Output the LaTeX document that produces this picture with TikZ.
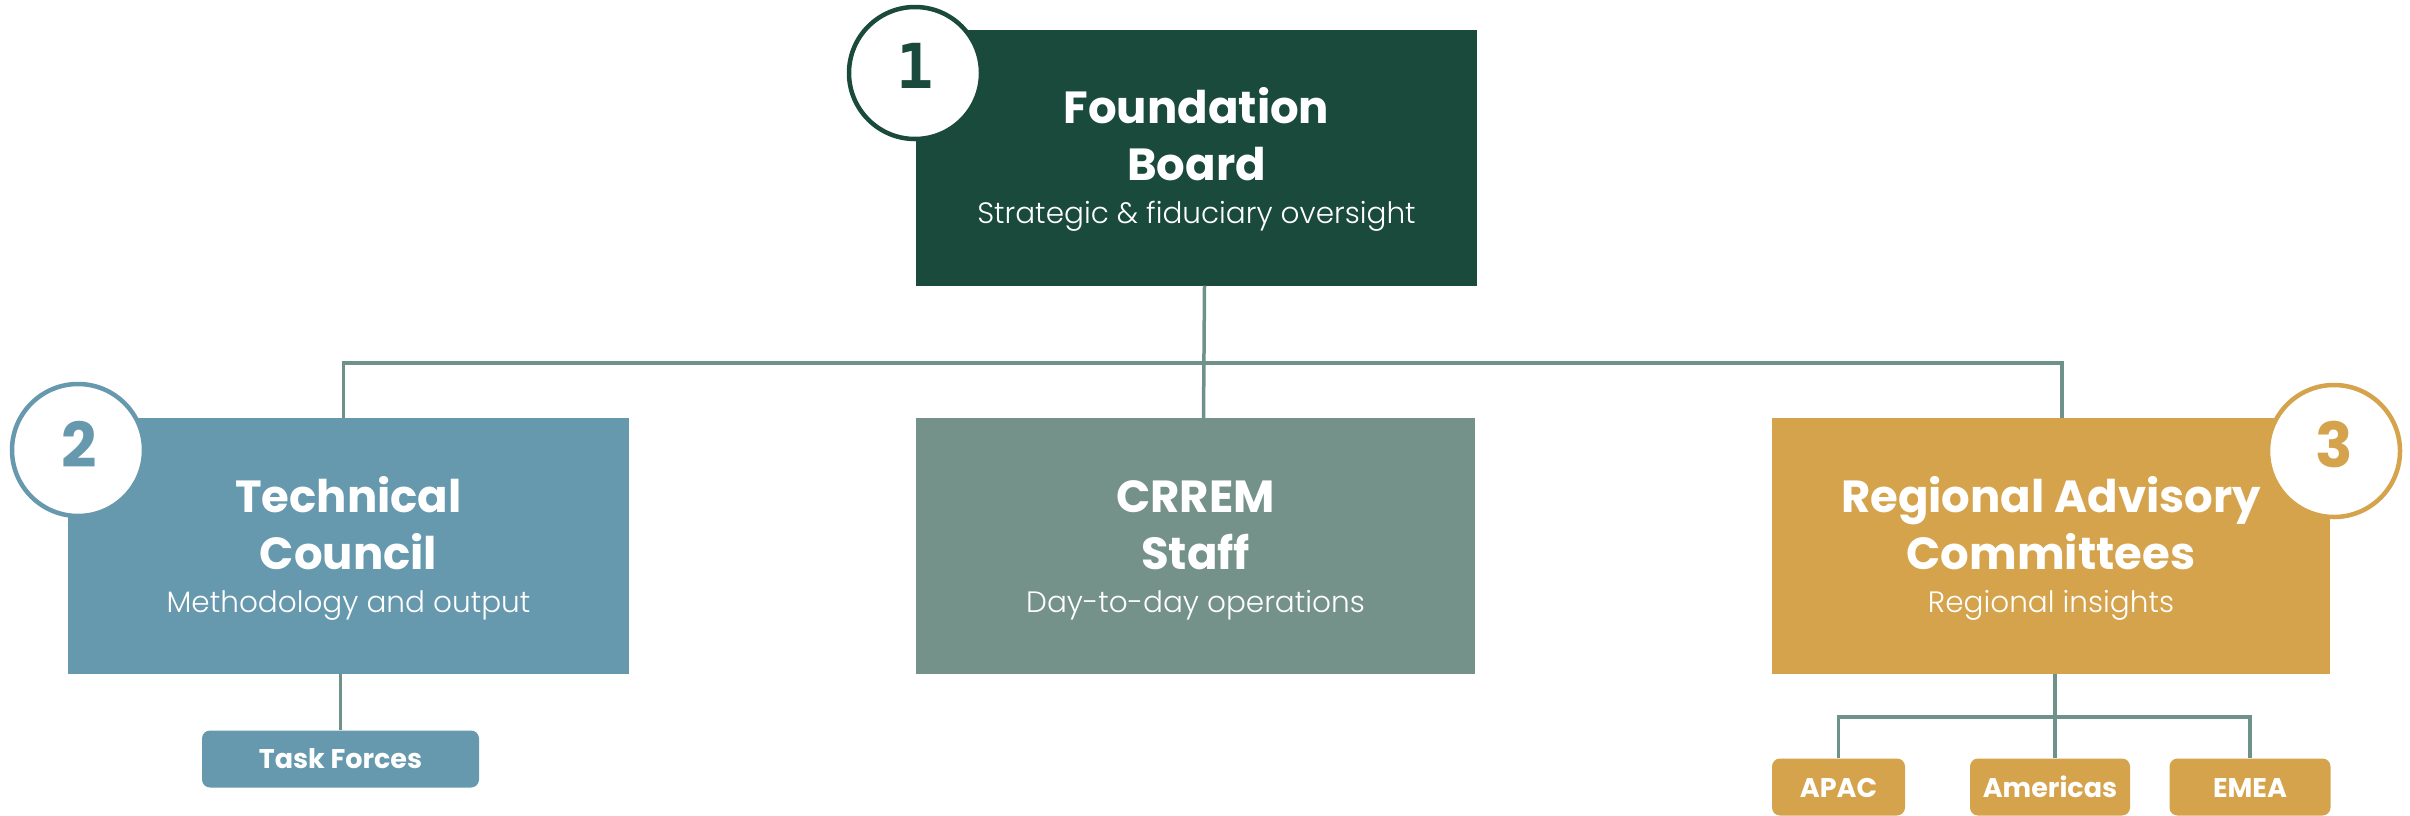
\documentclass[tikz,border=0pt]{standalone}
\usepackage{fontspec}
\setmainfont{Poppins}
\IfFontExistsTF{Poppins Light}{\newfontfamily\lightfnt{Poppins Light}}{\newfontfamily\lightfnt{Poppins}}
\newfontfamily\monofnt{DejaVu Sans Mono}
\definecolor{fbgreen}{HTML}{194A3C}
\definecolor{tcblue}{HTML}{6699AD}
\definecolor{csgreen}{HTML}{74918A}
\definecolor{racgold}{HTML}{D5A34B}
\definecolor{connc}{HTML}{6E918A}
\begin{document}
\begin{tikzpicture}[x=1pt,y=-1pt,
  bigbox/.style={rectangle, inner sep=0pt, minimum width=#1, minimum height=256},
  smallbox/.style={rectangle, rounded corners=8pt, inner sep=0pt, minimum height=57, text=white, font=\bfseries\fontsize{27}{28}\selectfont},
  ttl/.style={anchor=base, text=white, font=\bfseries\fontsize{45}{48}\selectfont, inner sep=0pt},
  sub/.style={anchor=base, text=white, font=\lightfnt\fontsize{29.5}{31}\selectfont, inner sep=0pt},
  numc/.style={circle, fill=white, line width=4.5pt, minimum size=132, inner sep=0pt},
  numt/.style={anchor=base, inner sep=0pt, font=\bfseries\fontsize{62}{64}\selectfont},
  conn/.style={draw=connc, line width=3.5pt}]
\useasboundingbox (0,0) rectangle (2410,815);
% boxes
\node[bigbox=561, fill=fbgreen] (fb) at (1196.5,157.5) {};
\node[bigbox=561, fill=tcblue] (tc) at (348.5,546) {};
\node[bigbox=559, fill=csgreen] (cs) at (1195.5,546) {};
\node[bigbox=558, fill=racgold] (rac) at (2051,546) {};
\node[smallbox, minimum width=277, fill=tcblue] (tf) at (340.5,759) {};
\node[smallbox, minimum width=133, fill=racgold] (apac) at (1838.5,787) {};
\node[smallbox, minimum width=160, fill=racgold] (amer) at (2050,787) {};
\node[smallbox, minimum width=161, fill=racgold] (emea) at (2250,787) {};
\node[smallbox, anchor=base] (tft) at (340.5,768) {Task Forces};
\node[smallbox, anchor=base] (apact) at (1838.5,797) {APAC};
\node[smallbox, anchor=base] (amert) at (2050,797) {Americas};
\node[smallbox, anchor=base] (emeat) at (2250,797) {EMEA};
% connectors
\coordinate (bus) at (1205,363);
\coordinate (sub) at (2055,717);
\draw[conn] ([xshift=8]fb.south) -- ([xshift=8]cs.north);
\draw[conn] ([xshift=-5]tc.north) |- (bus) -| ([xshift=11]rac.north);
\draw[conn] (tf.north) -- (tf.north |- tc.south);
\draw[conn] (sub |- rac.south) -- (sub);
\draw[conn] (apac.north) |- (sub) -| (emea.north);
\draw[conn] (amer.north -| sub) -- (sub);
% texts
\node[ttl] (fbt1) at (1196.5,123) {Foundation};
\node[ttl] (fbt2) at (1196.5,180) {Board};
\node[sub] (fbs) at (1196.5,223) {Strategic \& fiduciary oversight};
\node[ttl] (tct1) at (348.5,512) {Technical};
\node[ttl] (tct2) at (348.5,569) {Council};
\node[sub] (tcs) at (348.5,612) {Methodology and output};
\node[ttl] (cst1) at (1195.5,512) {CRREM};
\node[ttl] (cst2) at (1195.5,569) {Staff};
\node[sub] (css) at (1195.5,612) {Day-to-day operations};
\node[ttl] (ract1) at (2051,512) {Regional Advisory};
\node[ttl] (ract2) at (2051,569) {Committees};
\node[sub] (racs) at (2051,612) {Regional insights};
% number circles
\node[numc, draw=fbgreen] (c1) at (915,73) {};
\node[numt, text=fbgreen, font=\monofnt\bfseries\fontsize{62}{64}\selectfont] (n1) at (915,88) {1};
\node[numc, draw=tcblue] (c2) at (78,450) {};
\node[numt, text=tcblue] (n2) at (79,467) {2};
\node[numc, draw=racgold] (c3) at (2334,451) {};
\node[numt, text=racgold] (n3) at (2334,467) {3};
\end{tikzpicture}
\end{document}
